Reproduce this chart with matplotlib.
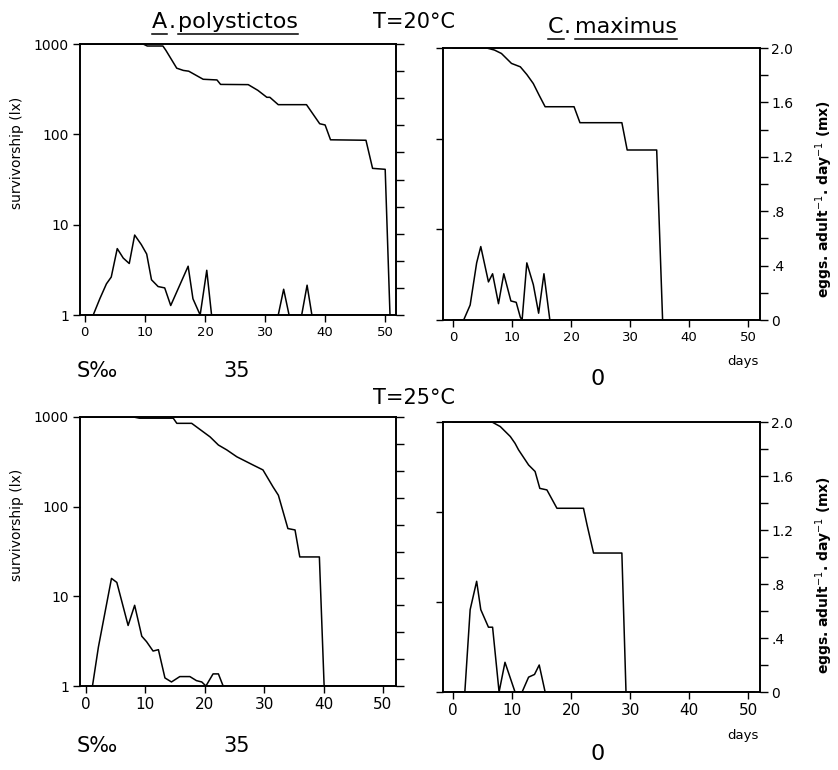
import numpy as np
import matplotlib
matplotlib.use("Agg")
import matplotlib.pyplot as plt
from matplotlib.lines import Line2D
from matplotlib.ticker import NullLocator

W, H = 838, 770

# A. polystictos, T=20C, S 35
ap20_surv_day = [0, 9.7, 10.4, 13, 13.5, 15.3, 16.4, 17.3, 19.7, 22, 22.6, 27.2, 28.8, 30.3, 30.8, 32.2,
                 36.9, 39.1, 40, 40.9, 46.8, 47.9, 50, 50.8]
ap20_surv_lx = [1000, 1000, 950, 950, 850, 540, 510, 500, 407, 400, 357, 355, 307, 257, 257, 213,
                213, 131, 127, 87, 86, 42, 41, 1]
ap20_fec_day = [0, 1.4, 2.5, 3.6, 4.4, 5.4, 6.4, 7.4, 8.3, 9.4, 10.3, 11.1, 12.2, 13.3, 14.3, 17.2,
                18, 19.2, 20.3, 21.1, 32.2, 33.1, 34, 36.1, 37, 37.8, 51]
ap20_fec_mx = [0, 0, 0.12, 0.23, 0.28, 0.49, 0.42, 0.38, 0.59, 0.52, 0.45, 0.26, 0.21, 0.2, 0.07, 0.36,
               0.12, 0, 0.33, 0, 0, 0.19, 0, 0, 0.22, 0, 0]

# C. maximus, T=20C, S 0
cm20_surv_day = [0, 5.7, 7, 8.2, 9.9, 11.4, 12.5, 13.6, 14.6, 15.6, 20.5, 21.5, 28.6, 29.5, 34.5, 35.5]
cm20_surv_lx = [1000, 1000, 950, 870, 676, 620, 510, 405, 300, 225, 225, 150, 150, 75, 75, 1]
cm20_fec_day = [0, 1.8, 2.9, 4.0, 4.7, 6.0, 6.7, 7.7, 8.6, 9.8, 10.7, 11.4, 11.7, 12.5, 13.6, 14.5,
                15.4, 16.4, 51]
cm20_fec_mx = [0, 0, 0.11, 0.42, 0.54, 0.28, 0.34, 0.12, 0.34, 0.14, 0.13, 0.02, 0, 0.42, 0.26, 0.05,
               0.34, 0, 0]

# A. polystictos, T=25C, S 35
ap25_surv_day = [0, 8, 9, 14.7, 15.3, 17.8, 20.9, 22.3, 23.7, 25.4, 28.2, 29.8, 31.5, 32.4, 34, 35.2,
                 36, 39.3, 40.1]
ap25_surv_lx = [1000, 1000, 970, 970, 850, 850, 600, 487, 430, 360, 290, 257, 166, 134, 57, 55,
                27.5, 27.5, 1]
ap25_fec_day = [0, 1.1, 2.1, 4.3, 5.2, 7.1, 8.2, 9.4, 10.2, 11.3, 12.2, 13.3, 14.4, 15.8, 17.5, 18.6,
                19.5, 20.2, 21.4, 22.3, 23.1, 51]
ap25_fec_mx = [0, 0, 0.29, 0.80, 0.77, 0.45, 0.60, 0.37, 0.33, 0.26, 0.27, 0.06, 0.03, 0.07, 0.07, 0.04,
               0.03, 0, 0.09, 0.09, 0, 0]

# C. maximus, T=25C, S 0
cm25_surv_day = [0, 6.6, 8, 9.7, 10.5, 11.1, 12.8, 13.9, 14.7, 15.9, 17.6, 22.1, 22.7, 23.8, 28.6, 29.3]
cm25_surv_lx = [1000, 1000, 890, 690, 580, 490, 333, 282, 183, 176, 110, 110, 72, 35, 35, 1]
cm25_fec_day = [0, 2.0, 2.9, 4.0, 4.7, 6.0, 6.7, 7.8, 8.8, 10.5, 11.7, 12.8, 13.8, 14.6, 15.6, 51]
cm25_fec_mx = [0, 0, 0.61, 0.82, 0.61, 0.48, 0.48, 0, 0.22, 0, 0, 0.11, 0.13, 0.20, 0, 0]

lx_ticks = [1, 10, 100, 1000]
day_ticks = [0, 10, 20, 30, 40, 50]
mx_major = [0, 0.4, 0.8, 1.2, 1.6, 2.0]
mx_major_labels = ["0", ".4", ".8", "1.2", "1.6", "2.0"]
mx_minor = [0.2, 0.6, 1.0, 1.4, 1.8]

fig = plt.figure(figsize=(W / 100, H / 100), dpi=100)
fig.patch.set_facecolor("white")


def rect(x0, y0, x1, y1):
    return [x0 / W, 1 - y1 / H, (x1 - x0) / W, (y1 - y0) / H]


def ftext(px, py, s, **kw):
    return fig.text(px / W, 1 - py / H, s, **kw)


def panel(r, sd, slx, fd, fmx, left, xlim, tsize):
    ax = fig.add_axes(r)
    ax.set_yscale("log")
    ax.plot(sd, slx, color="k", lw=1.1)
    ax.set_ylim(1, 1000)
    ax.set_xlim(xlim)
    ax.set_yticks(lx_ticks)
    ax.yaxis.set_minor_locator(NullLocator())
    if left:
        ax.set_yticklabels([str(v) for v in lx_ticks])
    else:
        ax.set_yticklabels([])
    ax.set_xticks(day_ticks)
    ax.set_xticklabels([str(v) for v in day_ticks])
    ax.tick_params(direction="out", length=5, width=1, labelsize=tsize, pad=3)
    ax.tick_params(axis="y", labelsize=10)
    for s in ax.spines.values():
        s.set_linewidth(1.2)

    ax2 = ax.twinx()
    ax2.plot(fd, fmx, color="k", lw=1.1)
    ax2.set_ylim(0, 2.0)
    if left:
        ax2.set_yticks(np.linspace(0, 2.0, 11))
        ax2.set_yticklabels([])
    else:
        ax2.set_yticks(mx_major)
        ax2.set_yticklabels(mx_major_labels)
        ax2.set_yticks(mx_minor, minor=True)
    ax2.tick_params(which="both", direction="out", length=6, width=1, labelsize=10, pad=2)
    for s in ax2.spines.values():
        s.set_linewidth(1.2)
    return ax, ax2


panel(rect(80, 44, 396, 315), ap20_surv_day, ap20_surv_lx, ap20_fec_day, ap20_fec_mx, True, (-0.8, 51.8), 9.5)
panel(rect(443, 48, 760, 320), cm20_surv_day, cm20_surv_lx, cm20_fec_day, cm20_fec_mx, False, (-1.7, 52), 9.5)
panel(rect(80, 417, 396, 686), ap25_surv_day, ap25_surv_lx, ap25_fec_day, ap25_fec_mx, True, (-1.0, 52.2), 11)
panel(rect(443, 422, 760, 692), cm25_surv_day, cm25_surv_lx, cm25_fec_day, cm25_fec_mx, False, (-1.7, 52), 11)

# titles
t_a = ftext(152, 28, "A", fontsize=16, va="baseline", ha="left")
ftext(169, 28, ".", fontsize=16, va="baseline", ha="left")
t_ap = ftext(178, 28, "polystictos", fontsize=16, va="baseline", ha="left")
t_c = ftext(548, 33, "C", fontsize=16, va="baseline", ha="left")
ftext(564, 33, ".", fontsize=16, va="baseline", ha="left")
t_cm = ftext(575, 33, "maximus", fontsize=16, va="baseline", ha="left")
ftext(373, 28, "T=20\u00b0C", fontsize=15, va="baseline", ha="left")
ftext(373, 404, "T=25\u00b0C", fontsize=15, va="baseline", ha="left")

# salinity and axis notes
for dy in (0, 375):
    ftext(97, 371 + dy, "S\u2030", fontsize=15, ha="center", va="center")
    ftext(237, 371 + dy, "35", fontsize=15, ha="center", va="center")
    ftext(598, 379 + dy, "0", fontsize=16, ha="center", va="center")
    ftext(743, 361 + dy, "days", fontsize=9.5, ha="center", va="center")

ftext(17, 153, "survivorship (lx)", fontsize=10, rotation=90, ha="center", va="center")
ftext(17, 525, "survivorship (lx)", fontsize=10, rotation=90, ha="center", va="center")
ftext(824, 199, "eggs. adult$^{-1}$. day$^{-1}$ (mx)", fontsize=10, fontweight="bold",
      rotation=90, ha="center", va="center")
ftext(824, 575, "eggs. adult$^{-1}$. day$^{-1}$ (mx)", fontsize=10, fontweight="bold",
      rotation=90, ha="center", va="center")

# underline the species names
fig.canvas.draw()
rend = fig.canvas.get_renderer()
for group in ([t_a, t_ap], [t_c, t_cm]):
    boxes = [t.get_window_extent(rend) for t in group]
    yb = min(b.y0 for b in boxes) - 1.5
    for b in boxes:
        fig.add_artist(Line2D([b.x0 / W, b.x1 / W], [yb / H, yb / H], color="k", lw=1.1,
                              transform=fig.transFigure))

fig.savefig("out.png", dpi=100)
